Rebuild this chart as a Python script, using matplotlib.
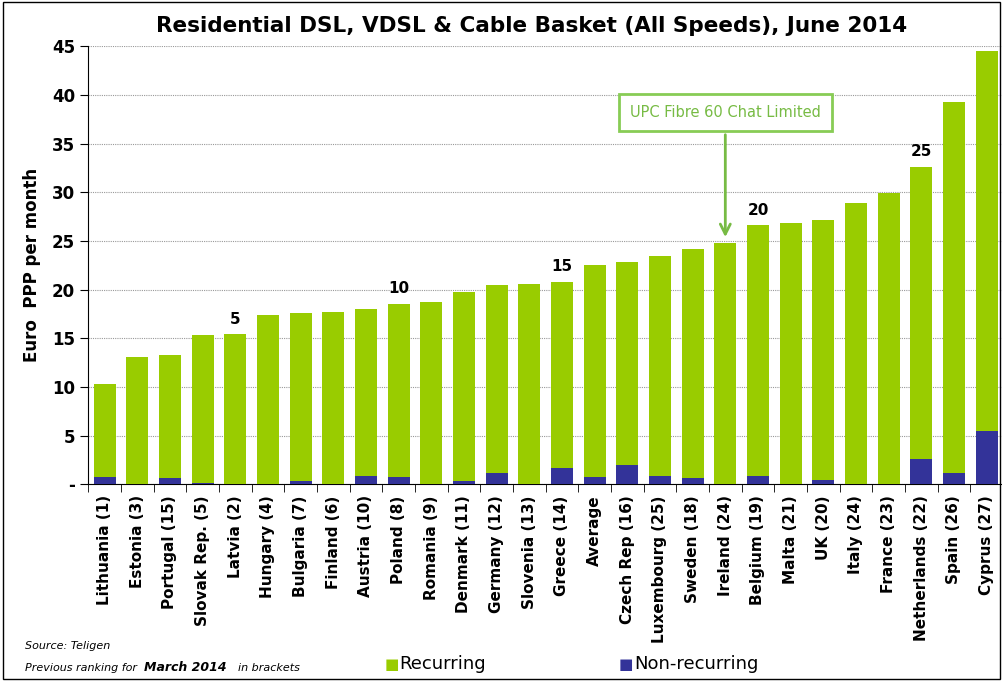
import numpy as np
import matplotlib.pyplot as plt

# Data
countries = ["Lithuania (1)", "Estonia (3)", "Portugal (15)", "Slovak Rep. (5)", "Latvia (2)",
             "Hungary (4)", "Bulgaria (7)", "Finland (6)", "Austria (10)", "Poland (8)",
             "Romania (9)", "Denmark (11)", "Germany (12)", "Slovenia (13)", "Greece (14)",
             "Average", "Czech Rep (16)", "Luxembourg (25)", "Sweden (18)", "Ireland (24)",
             "Belgium (19)", "Malta (21)", "UK (20)", "Italy (24)", "France (23)",
             "Netherlands (22)", "Spain (26)", "Cyprus (27)"]
totals = [10.3, 13.1, 13.3, 15.3, 15.4, 17.4, 17.6, 17.7, 18.0, 18.5,
          18.7, 19.7, 20.5, 20.6, 20.8, 22.5, 22.8, 23.5, 24.2, 24.8,
          26.6, 26.8, 27.1, 28.9, 29.9, 32.6, 39.3, 44.5]
non_recurring = [0.75, 0.0, 0.65, 0.13, 0.0, 0.0, 0.3, 0.0, 0.85, 0.75,
                 0.0, 0.3, 1.13, 0.0, 1.68, 0.72, 1.95, 0.85, 0.65, 0.0,
                 0.85, 0.0, 0.48, 0.0, 0.0, 2.57, 1.13, 5.5]
rank_marks = {4: "5", 9: "10", 14: "15", 20: "20", 25: "25"}

recurring = [t - n for t, n in zip(totals, non_recurring)]

green = "#99cc00"
blue = "#333399"
narrow = ["Liberation Sans Narrow", "DejaVu Sans"]

fig = plt.figure(figsize=(10.03, 6.81), dpi=100)
ax = fig.add_axes([0.088, 0.289, 0.912, 0.643])

x = np.arange(len(countries))
ax.bar(x, non_recurring, width=0.67, color=blue, zorder=3)
ax.bar(x, recurring, width=0.67, bottom=non_recurring, color=green, zorder=3)

ax.set_xlim(-0.5, len(countries) - 0.5)
ax.set_ylim(0, 45)
ax.set_yticks(range(0, 46, 5))
ax.set_yticklabels(["-"] + [str(v) for v in range(5, 46, 5)], fontsize=12, fontweight="bold")
ax.yaxis.grid(True, linestyle=(0, (1, 1)), color="#999999", linewidth=0.8, zorder=0)

ax.set_xticks(x)
ax.set_xticklabels(countries, rotation=90, fontsize=11, fontweight="bold")
ax.tick_params(axis="x", which="major", length=0, pad=8)
ax.set_xticks(np.arange(-0.5, len(countries), 1), minor=True)
ax.tick_params(axis="x", which="minor", length=6, direction="out")
ax.tick_params(axis="y", length=6, direction="out")

for s in ["top", "right"]:
    ax.spines[s].set_visible(False)

ax.set_ylabel("Euro  PPP per month", fontsize=12, fontweight="bold", labelpad=8)

for i, lab in rank_marks.items():
    ax.text(i, totals[i] + 0.8, lab, ha="center", va="bottom", fontsize=11, fontweight="bold")

ax.annotate("UPC Fibre 60 Chat Limited", xy=(19, totals[19] + 0.3), xytext=(19, 38.2),
            ha="center", va="center", fontsize=10.5, color="#77bb44",
            bbox=dict(boxstyle="square,pad=0.75", fc="white", ec="#88cc55", lw=2),
            arrowprops=dict(arrowstyle="->", color="#77bb44", lw=2, mutation_scale=18))

fig.text(0.53, 0.962, "Residential DSL, VDSL & Cable Basket (All Speeds), June 2014",
         ha="center", va="center", fontsize=15.5, fontweight="bold")

fig.text(0.025, 0.047, "Source: Teligen", fontsize=8, style="italic", family=narrow)
fig.text(0.025, 0.015, "Previous ranking for", fontsize=8, style="italic", family=narrow)
fig.text(0.144, 0.015, "March 2014", fontsize=9, style="italic", fontweight="bold", family=narrow)
fig.text(0.237, 0.015, "in brackets", fontsize=8, style="italic", family=narrow)

fig.text(0.383, 0.017, "\u25a0", color=green, fontsize=11)
fig.text(0.398, 0.017, "Recurring", fontsize=13, family=narrow)
fig.text(0.617, 0.017, "\u25a0", color=blue, fontsize=11)
fig.text(0.632, 0.017, "Non-recurring", fontsize=13, family=narrow)

border = plt.Rectangle((0.003, 0.003), 0.994, 0.994, transform=fig.transFigure,
                       fill=False, ec="black", lw=1)
fig.patches.append(border)

fig.savefig("out.png", dpi=100)
